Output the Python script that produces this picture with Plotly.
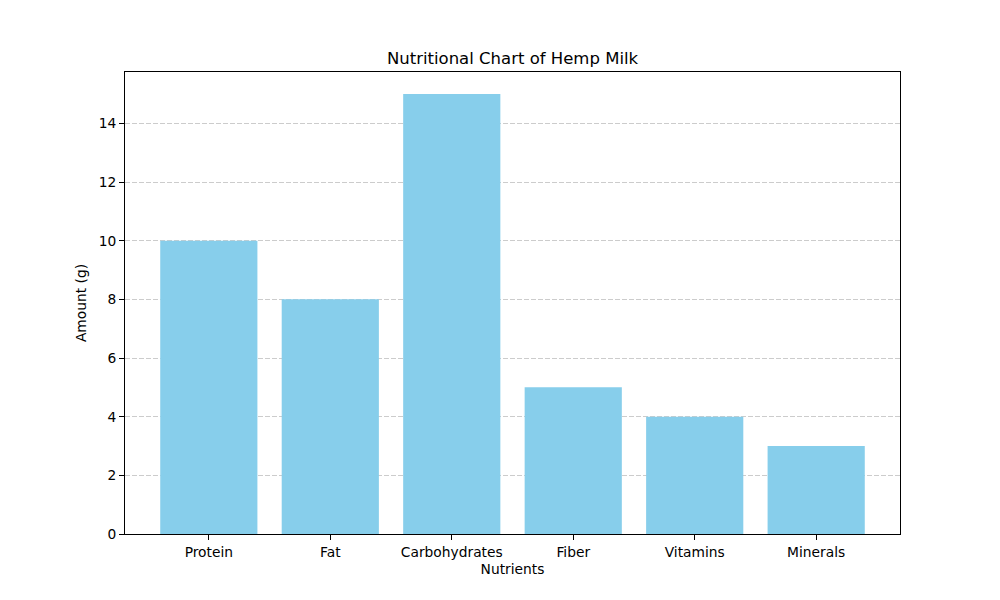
import plotly.graph_objects as go

nutrients = ["Protein", "Fat", "Carbohydrates", "Fiber", "Vitamins", "Minerals"]
amounts = [10, 8, 15, 5, 4, 3]
y_ticks = [0, 2, 4, 6, 8, 10, 12, 14]

fig = go.Figure()
fig.add_trace(go.Bar(
    x=list(range(len(nutrients))), y=amounts,
    marker=dict(color="#87CEEB", line=dict(width=0)),
    width=0.8,
))

font = dict(family="DejaVu Sans", size=13.8, color="black")
fig.update_layout(
    width=1000, height=600,
    margin=dict(l=117, r=108, t=64, b=74),
    plot_bgcolor="white", paper_bgcolor="white",
    font=font,
    showlegend=False,
    title=dict(text="Nutritional Chart of Hemp Milk", x=(117 + 775 / 2) / 1000, xanchor="center",
               y=1 - 50/600, yanchor="middle", font=dict(family="DejaVu Sans", size=16.5, color="black")),
    xaxis=dict(
        range=[-0.69, 5.69],
        tickmode="array", tickvals=list(range(len(nutrients))), ticktext=nutrients,
        showgrid=False, zeroline=False,
        showline=True, linecolor="black", linewidth=1, mirror=True,
        ticks="outside", ticklen=5, tickcolor="black",
        title=dict(text="Nutrients", standoff=5, font=font),
    ),
    yaxis=dict(
        range=[0, 15.75],
        tickmode="array", tickvals=y_ticks, ticktext=[str(v) for v in y_ticks],
        showgrid=True, gridcolor="rgba(128,128,128,0.4)", griddash="5px,2px", gridwidth=1,
        zeroline=False,
        showline=True, linecolor="black", linewidth=1, mirror=True,
        ticks="outside", ticklen=5, tickcolor="black",
        layer="above traces",
        title=dict(text="Amount (g)", standoff=8, font=font),
    ),
)

fig.write_html("out.html")
